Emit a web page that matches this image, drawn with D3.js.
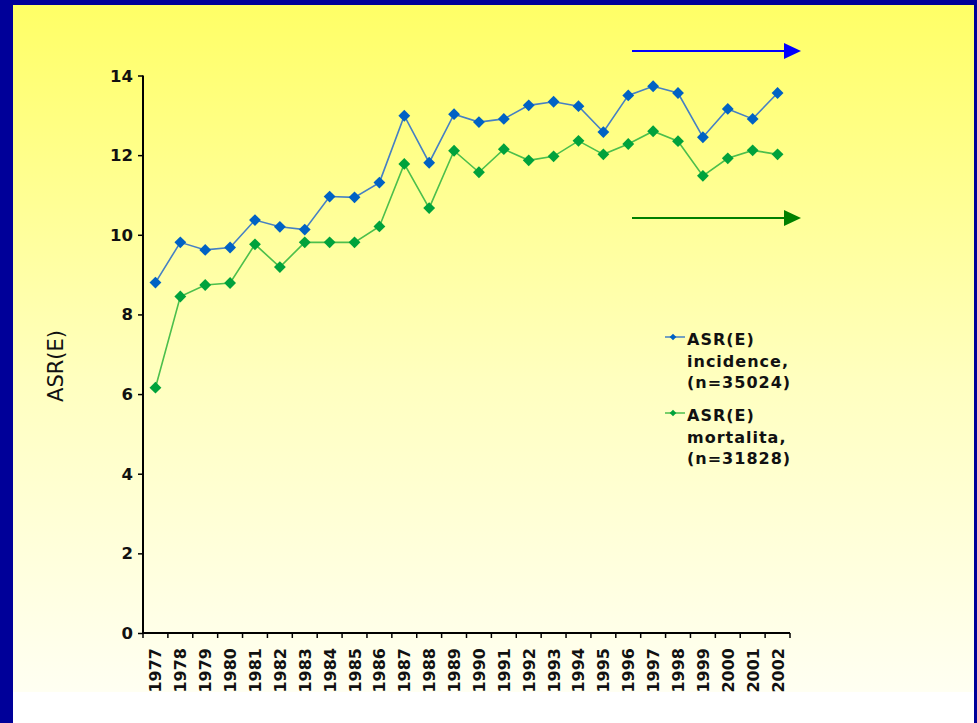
<!DOCTYPE html>
<html>
<head>
<meta charset="utf-8">
<script src="https://cdn.jsdelivr.net/npm/d3@7"></script>
<style>
  html, body { margin: 0; padding: 0; background: #fff; }
  svg { display: block; font-family: "DejaVu Sans", Verdana, sans-serif; }
</style>
</head>
<body>
<div id="chart"></div>
<script>
const years = [`1977`, `1978`, `1979`, `1980`, `1981`, `1982`, `1983`, `1984`, `1985`, `1986`, `1987`, `1988`, `1989`,
  `1990`, `1991`, `1992`, `1993`, `1994`, `1995`, `1996`, `1997`, `1998`, `1999`, `2000`, `2001`, `2002`];
const incidence = [8.80, 9.81, 9.62, 9.68, 10.37, 10.20, 10.13, 10.96, 10.94, 11.31, 12.99, 11.81, 13.03,
  12.83, 12.91, 13.25, 13.34, 13.23, 12.58, 13.50, 13.73, 13.56, 12.45, 13.16, 12.91, 13.56];
const mortality = [6.16, 8.45, 8.74, 8.79, 9.76, 9.19, 9.81, 9.81, 9.81, 10.21, 11.78, 10.67, 12.11,
  11.57, 12.15, 11.87, 11.97, 12.36, 12.02, 12.28, 12.60, 12.35, 11.48, 11.92, 12.12, 12.02];
const yTicks = [0, 2, 4, 6, 8, 10, 12, 14];
const legendLabels = [
  [`ASR(E)`, `incidence,`, `(n=35024)`],
  [`ASR(E)`, `mortalita,`, `(n=31828)`]
];

const width = 977;
const height = 723;
const margin = {top: 75.5, right: 187, bottom: 90, left: 143};
const innerWidth = width - margin.left - margin.right;
const innerHeight = height - margin.top - margin.bottom;

const series = [
  {values: incidence, fill: `#0062c4`, stroke: `#4680c4`},
  {values: mortality, fill: `#00a23c`, stroke: `#4cbf4c`}
];

const svg = d3.select(`#chart`)
  .append(`svg`)
    .attr(`width`, width)
    .attr(`height`, height);

const grad = svg.append(`defs`).append(`linearGradient`)
  .attr(`id`, `bg`)
  .attr(`x1`, 0).attr(`y1`, 0).attr(`x2`, 0).attr(`y2`, 1);
grad.append(`stop`).attr(`offset`, `0%`).attr(`stop-color`, `#ffff66`);
grad.append(`stop`).attr(`offset`, `55%`).attr(`stop-color`, `#ffffc0`);
grad.append(`stop`).attr(`offset`, `100%`).attr(`stop-color`, `#fffff2`);

// frame + background
svg.append(`rect`).attr(`width`, width).attr(`height`, height).attr(`fill`, `#ffffff`);
svg.append(`rect`)
  .attr(`x`, 13).attr(`y`, 5)
  .attr(`width`, 961).attr(`height`, 687)
  .attr(`fill`, `url(#bg)`);
svg.append(`rect`).attr(`x`, 0).attr(`y`, 0).attr(`width`, 13).attr(`height`, height).attr(`fill`, `#000099`);
svg.append(`rect`).attr(`x`, 0).attr(`y`, 0).attr(`width`, width).attr(`height`, 5).attr(`fill`, `#000099`);
svg.append(`rect`).attr(`x`, 974).attr(`y`, 0).attr(`width`, 3).attr(`height`, height).attr(`fill`, `#000099`);

const g = svg.append(`g`)
  .attr(`transform`, `translate(${margin.left},${margin.top})`);

const x = d3.scaleBand()
  .domain(years)
  .range([0, innerWidth]);

const y = d3.scaleLinear()
  .domain([0, 14])
  .range([innerHeight, 0]);

// y axis (line + ticks from d3, labels drawn separately)
const yAxis = g.append(`g`)
  .call(d3.axisLeft(y).tickValues(yTicks).tickSize(5).tickFormat(``));
yAxis.select(`.domain`).attr(`stroke`, `#000`).attr(`stroke-width`, 2).attr(`d`, `M0,${innerHeight}V0`);
yAxis.selectAll(`.tick line`).attr(`stroke`, `#000`).attr(`stroke-width`, 1.5);
yAxis.selectAll(`.tick text`).remove();

// right-aligned labels, placed with start anchor from their measured length
svg.append(`g`)
  .selectAll(`text`)
  .data(yTicks)
  .enter().append(`text`)
    .attr(`y`, d => margin.top + y(d) + 6)
    .attr(`font-size`, 16.5)
    .attr(`font-weight`, `bold`)
    .attr(`fill`, `#111`)
    .text(d => d)
    .attr(`x`, function() { return margin.left - 10 - this.getComputedTextLength(); });

// x axis: ticks at band edges, labels at band centres
const edges = years.map(d => x(d)).concat([innerWidth]);
g.append(`g`)
  .attr(`transform`, `translate(0,${innerHeight})`)
  .selectAll(`line`)
  .data(edges)
  .enter().append(`line`)
    .attr(`x1`, d => d).attr(`x2`, d => d)
    .attr(`y1`, 0).attr(`y2`, 5)
    .attr(`stroke`, `#000`)
    .attr(`stroke-width`, 1.5);
g.append(`line`)
  .attr(`x1`, 0).attr(`x2`, innerWidth)
  .attr(`y1`, innerHeight).attr(`y2`, innerHeight)
  .attr(`stroke`, `#000`).attr(`stroke-width`, 2);

svg.append(`g`)
  .selectAll(`text`)
  .data(years)
  .enter().append(`text`)
    .attr(`font-size`, 16)
    .attr(`font-weight`, `bold`)
    .attr(`fill`, `#111`)
    .text(d => d)
    .attr(`transform`, function(d) {
      const len = this.getComputedTextLength();
      return `translate(${margin.left + x(d) + x.bandwidth() / 2 + 6},${margin.top + innerHeight + 15 + len}) rotate(-90)`;
    });

// y title
svg.append(`text`)
  .attr(`transform`, `translate(63,366) rotate(-90)`)
  .attr(`text-anchor`, `middle`)
  .attr(`font-size`, 21)
  .attr(`fill`, `#111`)
  .text(`ASR(E)`);

const cx = i => x(years[i]) + x.bandwidth() / 2;

const line = d3.line()
  .x((d, i) => cx(i))
  .y(d => y(d));

series.forEach(s => {
  g.append(`path`)
    .datum(s.values)
    .attr(`fill`, `none`)
    .attr(`stroke`, s.stroke)
    .attr(`stroke-width`, 1.6)
    .attr(`d`, line);

  g.append(`g`)
    .selectAll(`path`)
    .data(s.values)
    .enter().append(`path`)
      .attr(`d`, d3.symbol().type(d3.symbolSquare).size(70))
      .attr(`transform`, (d, i) => `translate(${cx(i)},${y(d)}) rotate(45)`)
      .attr(`fill`, s.fill);
});

// legend
const legendY = [337, 413];
series.forEach((s, i) => {
  const lg = svg.append(`g`).attr(`transform`, `translate(0,${legendY[i]})`);
  lg.append(`line`)
    .attr(`x1`, 665).attr(`x2`, 685)
    .attr(`y1`, 0).attr(`y2`, 0)
    .attr(`stroke`, s.stroke)
    .attr(`stroke-width`, 1.5);
  lg.append(`path`)
    .attr(`d`, d3.symbol().type(d3.symbolSquare).size(22))
    .attr(`transform`, `translate(673,0) rotate(45)`)
    .attr(`fill`, s.fill);
  lg.append(`text`)
    .attr(`x`, 687)
    .attr(`y`, 8)
    .attr(`font-size`, 16)
    .attr(`font-weight`, `bold`)
    .attr(`letter-spacing`, 1)
    .attr(`fill`, `#111`)
    .selectAll(`tspan`)
    .data(legendLabels[i])
    .enter().append(`tspan`)
      .attr(`x`, 687)
      .attr(`dy`, (d, j) => j === 0 ? 0 : 21.5)
      .text(d => d);
});

// arrows
const arrows = [
  {y: 51, color: `#0000ff`},
  {y: 218, color: `#008000`}
];
arrows.forEach(a => {
  svg.append(`line`)
    .attr(`x1`, 632).attr(`x2`, 786)
    .attr(`y1`, a.y).attr(`y2`, a.y)
    .attr(`stroke`, a.color)
    .attr(`stroke-width`, 2.2);
  svg.append(`path`)
    .attr(`d`, `M784,${a.y - 8}L801,${a.y}L784,${a.y + 8}Z`)
    .attr(`fill`, a.color);
});
</script>
</body>
</html>
